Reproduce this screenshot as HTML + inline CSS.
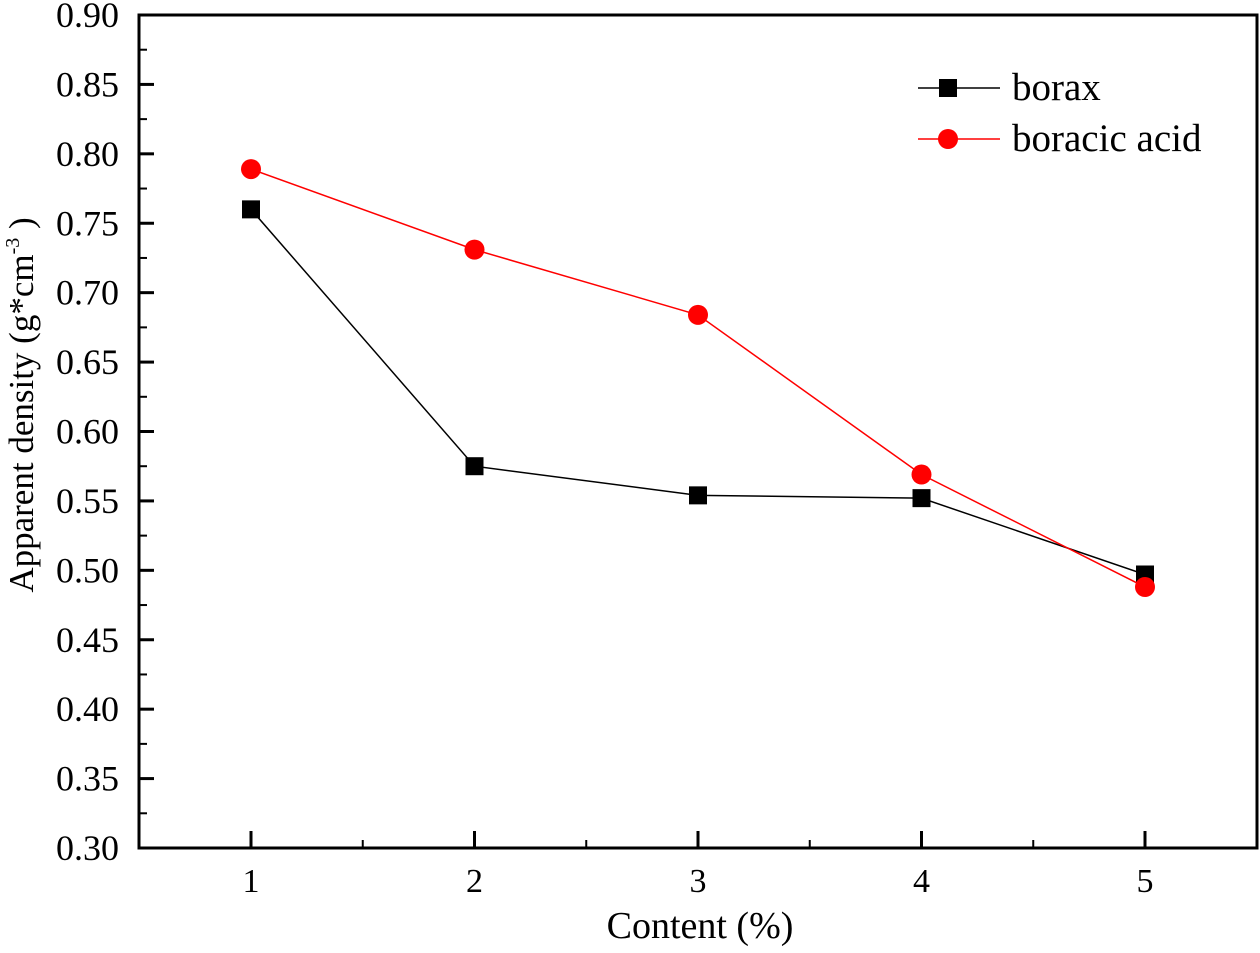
<!DOCTYPE html>
<html><head><meta charset="utf-8"><style>
html,body{margin:0;padding:0;background:#fff}
svg text{font-family:"Liberation Serif",serif;fill:#000}
</style></head><body>
<svg id="chart" width="1260" height="948" viewBox="0 0 1260 948" xmlns="http://www.w3.org/2000/svg"></svg>
<script>
const categories=[1,2,3,4,5];
const boraxValues=[0.760,0.575,0.554,0.552,0.497];
const boricValues=[0.789,0.731,0.684,0.569,0.488];
const yTicks=["0.30","0.35","0.40","0.45","0.50","0.55","0.60","0.65","0.70","0.75","0.80","0.85","0.90"];
const xTicks=["1","2","3","4","5"];

const L=139,R=1257,T=15,B=848;
const X=v=>251+(v-1)*223.5;
const Y=v=>B-(v-0.30)/0.60*(B-T);
const svg=document.getElementById('chart');
const NS='http://www.w3.org/2000/svg';
function mk(tag,attrs,parent){const e=document.createElementNS(NS,tag);for(const k in attrs)e.setAttribute(k,attrs[k]);(parent||svg).appendChild(e);return e;}

const frame=mk('rect',{x:L,y:T,width:R-L,height:B-T,fill:'none',stroke:'#000','stroke-width':3});



yTicks.forEach((t,i)=>{
  const v=parseFloat(t),y=Y(v);
  const tk=mk('line',{x1:L,x2:L+15,y1:y,y2:y,stroke:'#000','stroke-width':3});
  
  
  if(i<yTicks.length-1){
    const ym=Y(v+0.025);
    const mt=mk('line',{x1:L,x2:L+8,y1:ym,y2:ym,stroke:'#000','stroke-width':2});
    
    
  }
  const lb=mk('text',{x:119,y:y+12,'text-anchor':'end','font-size':36});
  lb.textContent=t;
  
  
});
xTicks.forEach((t,i)=>{
  const v=categories[i],x=X(v);
  const tk=mk('line',{x1:x,x2:x,y1:B,y2:B-17,stroke:'#000','stroke-width':3});
  
  
  const xm=X(v+0.5);
  if(xm<R){
    const mt=mk('line',{x1:xm,x2:xm,y1:B,y2:B-8,stroke:'#000','stroke-width':2});
    
    
  }
  const lb=mk('text',{x:x,y:892,'text-anchor':'middle','font-size':34});
  lb.textContent=t;
  
  
});
const xt=mk('text',{x:700,y:938,'text-anchor':'middle','font-size':38});
xt.textContent='Content (%)';


const yt=mk('text',{x:0,y:0,'text-anchor':'middle','font-size':35,transform:'translate(33,405) rotate(-90)'});
yt.innerHTML='Apparent density (g*cm<tspan font-size="20" dy="-14">-3</tspan><tspan dy="14"> )</tspan>';



function series(vals,color,shape,name){
  const pts=vals.map((v,i)=>X(categories[i])+','+Y(v)).join(' ');
  const pl=mk('polyline',{points:pts,fill:'none',stroke:color,'stroke-width':1.5});
  
  
  vals.forEach((v,i)=>{
    const x=X(categories[i]),y=Y(v);
    let m;
    if(shape==='sq') m=mk('rect',{x:x-9,y:y-9,width:18,height:18,fill:color});
    else m=mk('circle',{cx:x,cy:y,r:10,fill:color});
    
    
  });
}
series(boraxValues,'#000','sq','borax');
series(boricValues,'#f00','ci','boracic-acid');

const lg=mk('g',{});


mk('line',{x1:918,x2:1000,y1:88,y2:88,stroke:'#000','stroke-width':1.5},lg);
mk('rect',{x:939,y:79,width:18,height:18,fill:'#000'},lg);
const t1=mk('text',{x:1012,y:100,'font-size':39},lg);t1.textContent='borax';


mk('line',{x1:918,x2:1000,y1:139,y2:139,stroke:'#f00','stroke-width':1.5},lg);
mk('circle',{cx:948,cy:139,r:10,fill:'#f00'},lg);
const t2=mk('text',{x:1012,y:151,'font-size':39},lg);t2.textContent='boracic acid';


</script>
</body></html>
